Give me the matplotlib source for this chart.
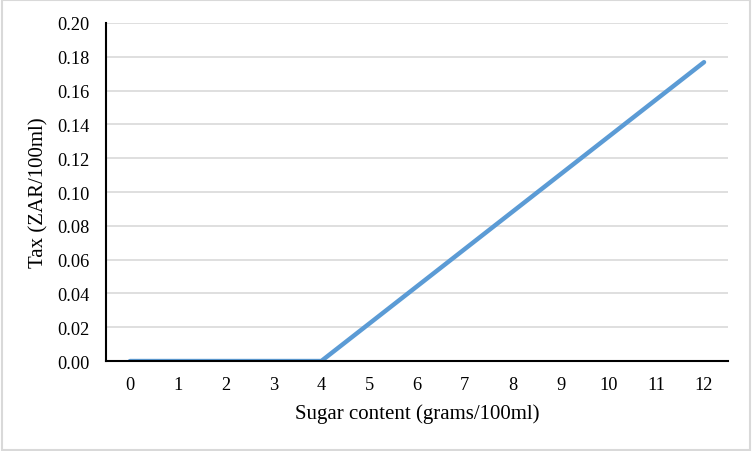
import matplotlib.pyplot as plt
from matplotlib.patches import Rectangle

sugar = [0, 1, 2, 3, 4, 5, 6, 7, 8, 9, 10, 11, 12]
tax = [0.0, 0.0, 0.0, 0.0, 0.0, 0.0221, 0.0442, 0.0663, 0.0884, 0.1105, 0.1326, 0.1547, 0.1768]
yticks = [0.00, 0.02, 0.04, 0.06, 0.08, 0.10, 0.12, 0.14, 0.16, 0.18, 0.20]

plt.rcParams['font.family'] = ['Liberation Serif', 'DejaVu Serif']

fig = plt.figure(figsize=(7.52, 4.52), dpi=100)
ax = fig.add_axes([0.141, 0.199, 0.827, 0.748])

ax.plot(sugar, tax, color='#5B9BD5', linewidth=3.2, solid_capstyle='round', zorder=3)

ax.set_xlim(-0.5, 12.5)
ax.set_ylim(0, 0.20)
ax.set_xticks(sugar)
ax.set_xticklabels([str(s) for s in sugar])
ax.set_yticks(yticks)
ax.set_yticklabels(['%.2f' % y for y in yticks])
ax.tick_params(axis='both', length=0, labelsize=13.2)
ax.tick_params(axis='y', pad=12)
ax.tick_params(axis='x', pad=11)

ax.grid(axis='y', color='#D9D9D9', linewidth=1.2)
ax.set_axisbelow(True)
for side in ['top', 'right']:
    ax.spines[side].set_visible(False)
for side in ['left', 'bottom']:
    ax.spines[side].set_color('black')
    ax.spines[side].set_linewidth(1.5)
    ax.spines[side].set_zorder(4)

ax.set_xlabel('Sugar content (grams/100ml)', fontsize=15, labelpad=7)
ax.set_ylabel('Tax (ZAR/100ml)', fontsize=15, labelpad=6)

fig.patches.append(Rectangle((0.002, 0.003), 0.996, 0.994, transform=fig.transFigure,
                             fill=False, edgecolor='#D9D9D9', linewidth=1.5))

fig.savefig('out.png', dpi=100)
